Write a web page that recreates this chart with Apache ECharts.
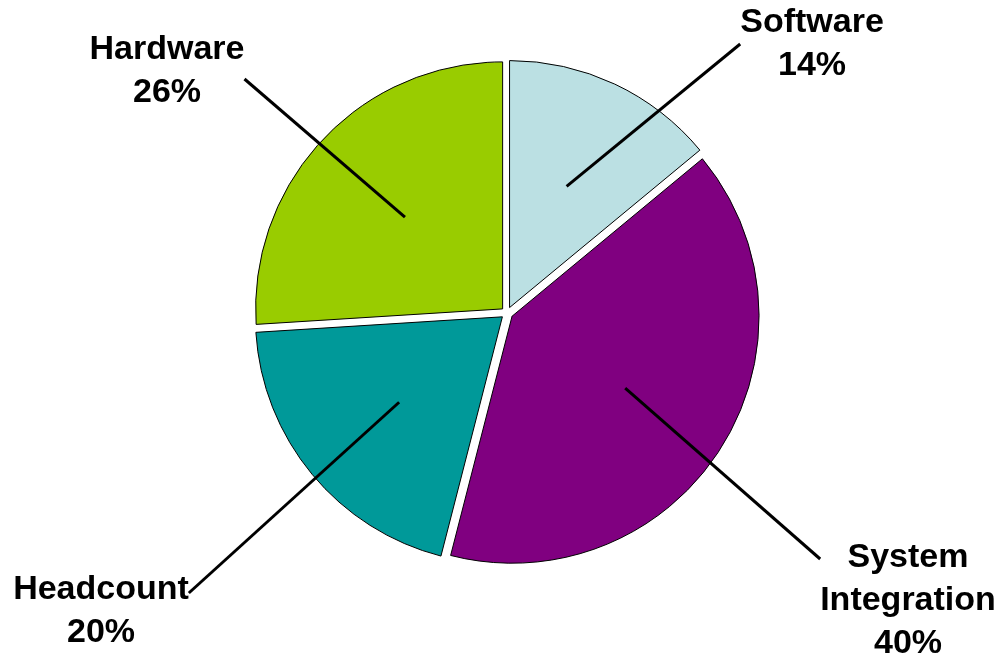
<!DOCTYPE html>
<html>
<head>
<meta charset="utf-8">
<script src="https://cdn.jsdelivr.net/npm/echarts@6/dist/echarts.min.js"></script>
<style>
html,body{margin:0;padding:0;background:#fff;}
#chart{width:1005px;height:660px;}
</style>
</head>
<body>
<div id="chart"></div>
<script>
// ---- data ----
const categories = ['Software', 'System\nIntegration', 'Headcount', 'Hardware'];
const shares = [14, 40, 20, 26];
const colors = ['#BBE0E3', '#800080', '#009999', '#99CC00'];

// ---- layout (label box tops and paddings, not data) ----
const labelAnchors = [[812, 1], [908, 452.5], [101, 532], [167, 28]];
const labelPads = [[0, 0, 0, 0], [84, 0, 0, 0], [36, 0, 0, 0], [0, 0, 16, 0]];

const FONT = '"Liberation Sans", Arial, Helvetica, sans-serif';
const CENTER = [507, 313];

const pieData = categories.map((c, i) => ({
  name: c,
  value: shares[i],
  selected: true,
  itemStyle: { color: colors[i] },
  select: { itemStyle: { color: colors[i], borderColor: '#000', borderWidth: 1 } }
}));

const labelData = categories.map((c, i) => ({
  name: c,
  value: shares[i],
  label: { padding: labelPads[i], backgroundColor: 'rgba(255,255,255,0)' }
}));

const chart = echarts.init(document.getElementById('chart'), null, { renderer: 'canvas' });
chart.setOption({
  animation: false,
  backgroundColor: '#fff',
  series: [
    {
      type: 'pie',
      center: CENTER,
      radius: [0, 247],
      startAngle: 90,
      clockwise: true,
      selectedMode: 'multiple',
      selectedOffset: 6,
      silent: true,
      label: { show: false },
      labelLine: { show: false },
      itemStyle: { borderColor: '#000', borderWidth: 1 },
      emphasis: { disabled: true },
      data: pieData
    },
    {
      type: 'pie',
      center: CENTER,
      radius: [0, 140],
      startAngle: 90,
      clockwise: true,
      silent: true,
      z: 5,
      avoidLabelOverlap: false,
      itemStyle: { color: 'rgba(0,0,0,0)', borderWidth: 0 },
      emphasis: { disabled: true },
      label: {
        show: true,
        position: 'outside',
        color: '#000',
        fontFamily: FONT,
        fontWeight: 'bold',
        fontSize: 34,
        lineHeight: 43,
        align: 'center',
        formatter: p => p.name + '\n' + p.value + '%'
      },
      labelLine: {
        show: true,
        length: 10,
        length2: 0,
        lineStyle: { color: '#000', width: 3 }
      },
      labelLayout: function (params) {
        const a = labelAnchors[params.dataIndex];
        return { x: a[0], y: a[1], align: 'center', verticalAlign: 'top', hideOverlap: false };
      },
      data: labelData
    }
  ]
});
</script>
</body>
</html>
